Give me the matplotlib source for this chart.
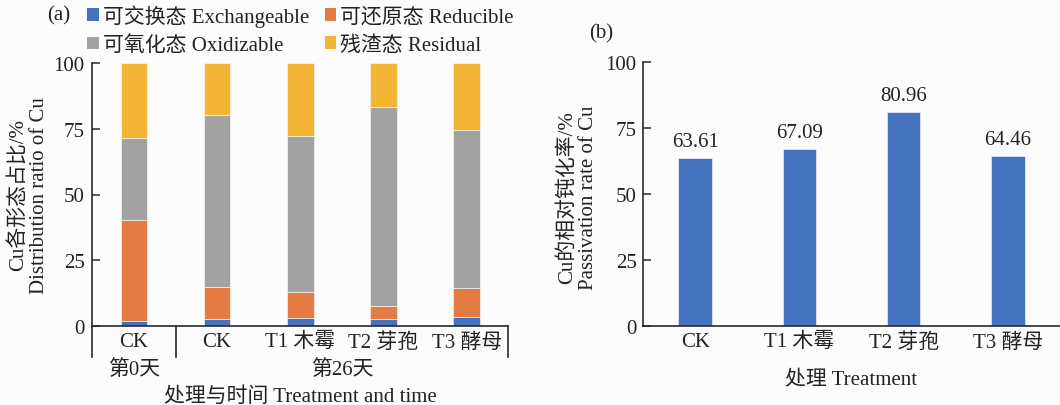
import matplotlib
matplotlib.use("Agg")
import matplotlib.pyplot as plt
import numpy as np
from matplotlib.transforms import blended_transform_factory
from matplotlib.patches import Patch

plt.rcParams["font.family"] = ["Liberation Serif", "Noto Sans CJK SC"]
plt.rcParams["font.size"] = 15
plt.rcParams["text.color"] = "#222222"
plt.rcParams["axes.labelcolor"] = "#222222"
plt.rcParams["xtick.color"] = "#222222"
plt.rcParams["ytick.color"] = "#222222"

# ---- data -------------------------------------------------------------
categories_a = ["CK", "CK", "T1 木霉", "T2 芽孢", "T3 酵母"]
day_groups = ["第0天", "第26天"]
group_first = [0, 1]
group_last = [0, 4]

exchangeable = [2.0, 2.8, 3.2, 2.5, 3.3]
reducible = [38.4, 11.9, 9.8, 5.2, 11.0]
oxidizable = [31.0, 65.6, 59.3, 75.7, 60.1]
residual = [28.6, 19.7, 27.7, 16.6, 25.6]

fraction_names = ["可交换态 Exchangeable", "可还原态 Reducible",
                  "可氧化态 Oxidizable", "残渣态 Residual"]
fraction_colors = ["#4472BE", "#E47B43", "#A2A2A2", "#F4B436"]

categories_b = ["CK", "T1 木霉", "T2 芽孢", "T3 酵母"]
passivation = [63.61, 67.09, 80.96, 64.46]

y_ticks = [0, 25, 50, 75, 100]

# ---- figure -----------------------------------------------------------
W, H = 1060, 406
fig = plt.figure(figsize=(W / 100, H / 100), dpi=100, facecolor="#fcfcfc")

spine_color = "#2a2a2a"


def style_axes(ax):
    ax.set_facecolor("none")
    for s in ("top", "right"):
        ax.spines[s].set_visible(False)
    for s in ("left", "bottom"):
        ax.spines[s].set_color(spine_color)
        ax.spines[s].set_linewidth(1.2)
    ax.set_ylim(0, 100)
    ax.set_yticks(y_ticks)
    ax.tick_params(axis="y", direction="in", length=6, width=1.1,
                   color=spine_color, pad=5.5)
    ax.tick_params(axis="x", length=0, pad=4.5)


# ---- panel (a): stacked fractions ------------------------------------
ax1 = fig.add_axes([92.3 / W, 1 - 327 / H, 416 / W, 263 / H])
style_axes(ax1)
x = np.arange(len(categories_a))
bottom = np.zeros(len(categories_a))
for vals, color in zip([exchangeable, reducible, oxidizable, residual],
                       fraction_colors):
    ax1.bar(x, vals, width=0.32, bottom=bottom, color=color,
            edgecolor="white", linewidth=0.4)
    bottom += np.array(vals)
ax1.set_xlim(-0.5, len(categories_a) - 0.5)
ax1.set_xticks(x)
ax1.set_xticklabels(categories_a)

# multi-level category axis: separators and day labels
tr = blended_transform_factory(ax1.transData, ax1.transAxes)
edges = sorted(set([g - 0.5 for g in group_first] + [g + 0.5 for g in group_last]))
for e in edges:
    ax1.plot([e, e], [0, -0.118], transform=tr, color=spine_color,
             lw=1.2, clip_on=False)
for name, g0, g1 in zip(day_groups, group_first, group_last):
    ax1.text((g0 + g1) / 2, -0.163, name, transform=tr,
             ha="center", va="center")
ax1.text(0.5, -0.268, "处理与时间 Treatment and time", transform=ax1.transAxes,
         ha="center", va="center")
ax1.set_ylabel("Cu各形态占比/%\nDistribution ratio of Cu", linespacing=1.15,
               multialignment="center")
ax1.yaxis.set_label_coords(-0.103, 0.5)

handles = [Patch(facecolor=c, edgecolor="none") for c in fraction_colors]
order = [0, 2, 1, 3]
fig.legend([handles[i] for i in order], [fraction_names[i] for i in order],
           ncol=2, loc="upper left", bbox_to_anchor=(83 / W, 1 - 1 / H),
           frameon=False, handlelength=0.55, handleheight=0.55,
           handletextpad=0.2, columnspacing=0.75, labelspacing=0.42,
           borderaxespad=0, borderpad=0.2)
fig.text(58.5 / W, 1 - 16 / H, "(a)", ha="center", va="center")

# ---- panel (b): passivation rate -------------------------------------
ax2 = fig.add_axes([643 / W, 1 - 327 / H, 417 / W, 264 / H])
style_axes(ax2)
ax2.tick_params(axis="y", pad=4.5)
xb = np.arange(len(categories_b))
bars = ax2.bar(xb, passivation, width=0.32, color=fraction_colors[0],
               edgecolor="white", linewidth=0.4)
ax2.bar_label(bars, labels=[f"{v:.2f}" for v in passivation], padding=5)
ax2.set_xlim(-0.5, len(categories_b) - 0.5)
ax2.set_xticks(xb)
ax2.set_xticklabels(categories_b)
ax2.set_xlabel("处理 Treatment", labelpad=13)
ax2.set_ylabel("Cu的相对钝化率/%\nPassivation rate of Cu", linespacing=1.15,
               multialignment="center")
ax2.yaxis.set_label_coords(-0.108, 0.49)
fig.text(601 / W, 1 - 34 / H, "(b)", ha="center", va="center")

fig.savefig("out.png", dpi=100, facecolor=fig.get_facecolor())
